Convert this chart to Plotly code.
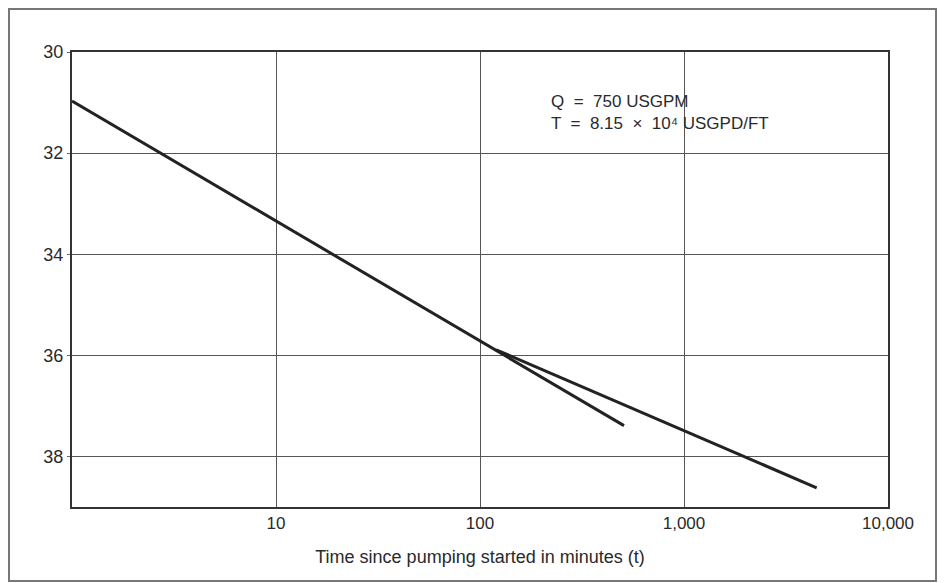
import plotly.graph_objects as go

# Data (time in minutes, drawdown in feet)
line1_t = [1, 508]
line1_s = [30.97, 37.39]
line2_t = [120, 4470]
line2_s = [35.89, 38.62]

y_ticks = [30, 32, 34, 36, 38]
x_ticks = [10, 100, 1000, 10000]
x_tick_labels = ["10", "100", "1,000", "10,000"]

annotation_lines = ["Q  =  750 USGPM", "T  =  8.15  ×  10⁴ USGPD/FT"]

FONT = "Liberation Sans, Arial, sans-serif"
LINE_COLOR = "#222222"
TEXT_COLOR = "#2a2a2a"

fig = go.Figure()
fig.add_trace(go.Scatter(x=line1_t, y=line1_s, mode="lines",
                         line=dict(color=LINE_COLOR, width=3), showlegend=False))
fig.add_trace(go.Scatter(x=line2_t, y=line2_s, mode="lines",
                         line=dict(color=LINE_COLOR, width=3), showlegend=False))

# page has an 8px body margin; compensate
OFF = 8
W, H = 945 - OFF, 583 - OFF
ml, mr, mt, mb = 72 - OFF, 945 - 888, 52 - OFF, 583 - 507
pw = W - ml - mr
ph = H - mt - mb

fig.update_layout(
    width=W, height=H,
    margin=dict(l=ml, r=mr, t=mt, b=mb),
    paper_bgcolor="white", plot_bgcolor="white",
    font=dict(family=FONT, size=17, color=TEXT_COLOR),
    xaxis=dict(type="log", range=[0, 4], tickvals=x_ticks, ticktext=x_tick_labels,
               showgrid=True, gridcolor="#555555", gridwidth=1,
               showline=True, linecolor="#333333", linewidth=2, mirror=True,
               ticks="", tickfont=dict(size=17, color=TEXT_COLOR),
               title=dict(text="Time since pumping started in minutes (t)",
                          font=dict(size=18, color=TEXT_COLOR), standoff=18),
               zeroline=False),
    yaxis=dict(range=[39, 30], tickvals=y_ticks,
               showgrid=True, gridcolor="#555555", gridwidth=1,
               showline=True, linecolor="#333333", linewidth=2, mirror=True,
               ticks="outside", ticklen=3, tickcolor="#666666",
               tickfont=dict(size=18, color=TEXT_COLOR), zeroline=False),
    annotations=[dict(
        text="<br>".join(annotation_lines),
        xref="paper", yref="paper",
        x=(549 - 72) / pw, y=1 - (90 - 52) / ph,
        xanchor="left", yanchor="top", align="left", showarrow=False,
        font=dict(size=17, color=TEXT_COLOR))],
    shapes=[dict(type="rect", xref="paper", yref="paper",
                 x0=(9 - 72) / pw, x1=(936 - 72) / pw,
                 y0=1 - (581 - 52) / ph, y1=1 + (mt - 1) / ph,
                 line=dict(color="#777777", width=2), layer="below")],
)

fig.write_html("out.html")
